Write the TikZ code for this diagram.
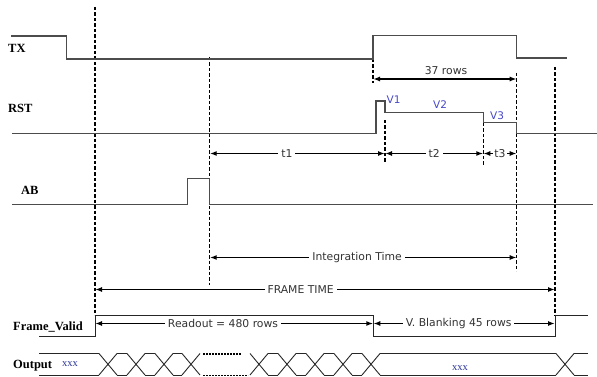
\documentclass[tikz,border=0pt]{standalone}
\usepackage{fontspec}
\setmainfont{Liberation Serif}
\newfontfamily\labfont{DejaVu Sans}
\usetikzlibrary{arrows.meta}
\tikzset{
  sig/.style={draw=black!70, line width=1.2pt},
  guide/.style={draw=black, line width=1.1pt, dash pattern=on 3.5pt off 2pt},
  dim/.style={draw=black, line width=1.8pt, {Latex[length=7pt,width=5pt]}-{Latex[length=7pt,width=5pt]}},
  dimlab/.style={fill=white, inner sep=3pt, text=black!80, font=\labfont\fontsize{10.8}{12}\selectfont},
  signame/.style={anchor=west, inner sep=0pt, font=\bfseries\fontsize{12.5}{14}\selectfont},
  vlab/.style={inner sep=0pt, text={rgb,255:red,70;green,70;blue,200}, font=\labfont\fontsize{10.5}{12}\selectfont},
  xlab/.style={inner sep=0pt, text={rgb,255:red,40;green,50;blue,150}, font=\fontsize{10.5}{12}\selectfont},
  bus/.style={draw=black!85, line width=0.9pt},
  dots/.style={draw=black, line width=1.1pt, dash pattern=on 2pt off 1pt}
}
\begin{document}
\begin{tikzpicture}[x=1pt,y=-1pt]
\useasboundingbox (0,0) rectangle (597,377);
% signal names
\node[signame] (ntx) at (8,48) {TX};
\node[signame] (nrst) at (8,108) {RST};
\node[signame] (nab) at (21,190) {AB};
\node[signame] (nfv) at (13,327.5) {Frame\_Valid};
\node[signame] (nout) at (13,366) {Output};
% guide coordinates
\coordinate (gA) at (95,0);
\coordinate (gB) at (209.7,0);
\coordinate (gC) at (373,0);
\coordinate (gD) at (385,0);
\coordinate (gE) at (483.3,0);
\coordinate (gF) at (516.7,0);
\coordinate (gG) at (555,0);
% dashed guides
\draw[guide] (gA |- 0,7) -- (gA |- 0,315);
\draw[guide] (gB |- 0,57) -- (gB |- 0,285);
\draw[guide] (gC |- 0,59) -- (gC |- 0,83);
\draw[guide] (gD |- 0,120) -- (gD |- 0,163);
\draw[guide] (gE |- 0,123) -- (gE |- 0,165);
\draw[guide] (gF |- 0,73) -- (gF |- 0,271);
\draw[guide] (gG |- 0,67) -- (gG |- 0,315);
% TX
\draw[sig] (11,36) -- (66.5,36) -- (66.5,59) -- (373,59) -- (373,35.5) -- (516.7,35.5) -- (516.7,58) -- (566.7,58);
% RST
\draw[sig] (12,133.7) -- (376,133.7) -- (376,101) -- (385,101) -- (385,112.3) -- (483.3,112.3) -- (483.3,122.7) -- (516.7,122.7) -- (516.7,133.7) -- (597,133.7);
\node[vlab,anchor=west] (v1) at (386.5,99.5) {V1};
\node[vlab] (v2) at (440,105) {V2};
\node[vlab] (v3) at (497,116) {V3};
% AB
\draw[sig] (12,204.5) -- (187.7,204.5) -- (187.7,178.3) -- (209.7,178.3) -- (209.7,204.5) -- (593,204.5);
% Frame valid
\draw[sig,draw=black!85,line width=1pt] (39,336.7) -- (95,336.7) -- (95,315) -- (373.3,315) -- (373.3,336.7) -- (555,336.7) -- (555,315) -- (588,315);
% dimension arrows
\draw[dim] (gC |- 0,79) -- (gF |- 0,79);
\node[dimlab,fill=none] (l37) at (446,71) {37 rows};
\draw[dim] (gB |- 0,153.5) -- node[dimlab,pos=0.44] (lt1) {t1} (gD |- 0,153.5);
\draw[dim] (gD |- 0,153.5) -- node[dimlab,pos=0.5] (lt2) {t2} (gE |- 0,153.5);
\draw[dim] (gE |- 0,153.5) -- node[dimlab,pos=0.5,inner sep=1pt] (lt3) {t3} (gF |- 0,153.5);
\draw[dim] (gB |- 0,257.5) -- node[dimlab,pos=0.48] (lint) {Integration Time} (gF |- 0,257.5);
\draw[dim] (gA |- 0,289.5) -- node[dimlab,pos=0.447] (lframe) {FRAME TIME} (gG |- 0,289.5);
\draw[dim] (gA |- 0,323.5) -- node[dimlab,pos=0.46] (lread) {Readout = 480 rows} (373.3,323.5);
\draw[dim] (373.3,323.5) -- node[dimlab,pos=0.47] (lvb) {V. Blanking 45 rows} (gG |- 0,323.5);
% Output bus
\def\yT{353.5}\def\yB{375}
\foreach \a/\b in {39/99,117/127,145/155,173/182,268/278,296/306,324/334,352/362,380/556,574/588}{
  \draw[bus] (\a,\yT) -- (\b,\yT);
  \draw[bus] (\a,\yB) -- (\b,\yB);
}
\foreach \c in {108,136,164,191,259,287,315,343,371,565}{
  \draw[bus] (\c-9,\yT) -- (\c+9,\yB);
  \draw[bus] (\c-9,\yB) -- (\c+9,\yT);
}
\draw[dots] (203,354) -- (241,354);
\draw[dots] (203,375.5) -- (248,375.5);
\node[xlab] (x1) at (70,364) {xxx};
\node[xlab] (x2) at (460,368) {xxx};
\end{tikzpicture}
\end{document}
